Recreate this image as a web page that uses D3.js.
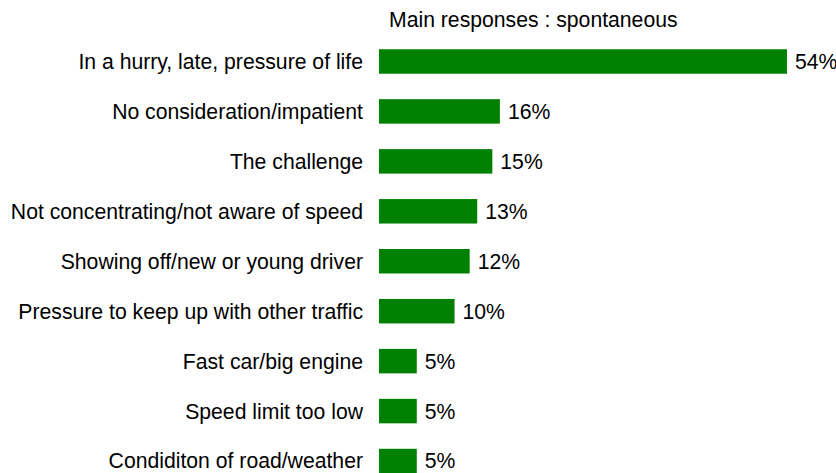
<!DOCTYPE html>
<html>
<head>
<meta charset="utf-8">
<script src="https://cdnjs.cloudflare.com/ajax/libs/d3/7.8.5/d3.min.js"></script>
<style>
  body { margin: 0; background: #fff; }
  svg text { font-family: "Liberation Sans", Arial, sans-serif; fill: #000; }
</style>
</head>
<body>
<div id="chart-area"></div>
<script>
// answers and their shares (%)
var categories = [
    "In a hurry, late, pressure of life",
    "No consideration/impatient",
    "The challenge",
    "Not concentrating/not aware of speed",
    "Showing off/new or young driver",
    "Pressure to keep up with other traffic",
    "Fast car/big engine",
    "Speed limit too low",
    "Condiditon of road/weather"
];
var values = [54, 16, 15, 13, 12, 10, 5, 5, 5];
var title = "Main responses : spontaneous";

var width = 836, height = 473;
var fontSize = "21.2px";

var svg = d3.select("#chart-area").append("svg")
    .attr("width", width)
    .attr("height", height);

var x = d3.scaleLinear()
    .domain([0, 54])
    .range([379, 787]);

var y = d3.scaleBand()
    .domain(categories)
    .range([36.5, 486])
    .paddingInner(0.51)
    .paddingOuter(0.255);

svg.append("text")
    .attr("x", 389)
    .attr("y", 27)
    .attr("font-size", fontSize)
    .text(title);

var rows = categories.map(function(c, i) {
    return { name: c, value: values[i] };
});

svg.selectAll("rect")
    .data(rows)
    .enter()
    .append("rect")
    .attr("x", x(0))
    .attr("y", function(d) { return y(d.name); })
    .attr("width", function(d) { return x(d.value) - x(0); })
    .attr("height", y.bandwidth())
    .attr("fill", "#008000");

svg.selectAll(".cat")
    .data(rows)
    .enter()
    .append("text")
    .attr("class", "cat")
    .attr("x", 363)
    .attr("y", function(d) { return y(d.name) + y.bandwidth() / 2; })
    .attr("dy", "0.35em")
    .attr("text-anchor", "end")
    .attr("font-size", fontSize)
    .text(function(d) { return d.name; });

svg.selectAll(".val")
    .data(rows)
    .enter()
    .append("text")
    .attr("class", "val")
    .attr("x", function(d) { return x(d.value) + 8; })
    .attr("y", function(d) { return y(d.name) + y.bandwidth() / 2; })
    .attr("dy", "0.35em")
    .attr("font-size", fontSize)
    .text(function(d) { return d.value + "%"; });
</script>
</body>
</html>
